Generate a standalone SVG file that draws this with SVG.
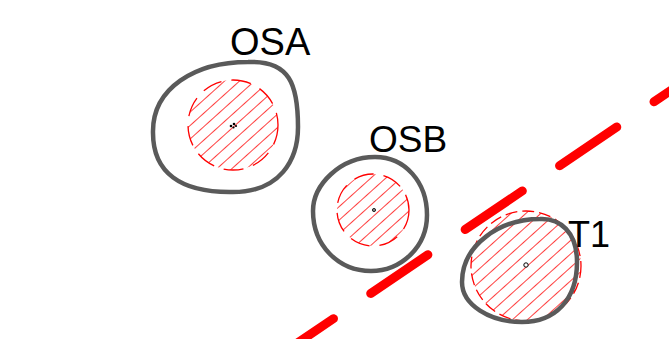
<svg xmlns="http://www.w3.org/2000/svg" width="669" height="339" viewBox="0 0 669 339">
<style>
.blob{fill:none;stroke:#5a5a5a;stroke-width:4.5;stroke-linejoin:round}
.zone{fill:url(#hatch);stroke:#ff0000;stroke-width:1.3;stroke-dasharray:20 10}
.lbl{font-family:"Liberation Sans",Arial,sans-serif;font-size:37px;fill:#000}
.road{fill:none;stroke:#ff0000;stroke-width:9;stroke-linecap:round;stroke-dasharray:69 45}
</style>
<defs>
<pattern id="hatch" patternUnits="userSpaceOnUse" width="10" height="10" patternTransform="rotate(48)">
<line x1="0" y1="0" x2="0" y2="10" stroke="#ff0000" stroke-width="1.5"/>
</pattern>
</defs>
<rect width="669" height="339" fill="#fff"/>
<g id="connectors">
<path class="road" d="M276.3,357.3 L700,70.7"/>
</g>
<g id="OSA">
<circle class="zone" cx="233" cy="125" r="45"/>
<path class="blob" d="M248,62 C290,60 298,85 298,127 C298,160 280,192 233,192 C180,193 153,172 153,133 C152,88 195,62 248,62 Z"/>
<circle cx="231" cy="126" r="1.3" fill="#000"/>
<circle cx="234" cy="124" r="1.3" fill="#000"/>
<circle cx="236" cy="126" r="1.1" fill="#000"/>
<circle cx="233.5" cy="127.5" r="1.1" fill="#000"/>
<text class="lbl" x="230" y="55" style="font-size:38px">OSA</text>
</g>
<g id="OSB">
<circle class="zone" cx="373" cy="210" r="36"/>
<path class="blob" d="M375,157 C405,157 427,182 427,215 C427,248 400,271 371,271 C338,271 313,245 313,211 C313,185 340,157 375,157 Z"/>
<circle cx="374" cy="210" r="1.6" fill="#888" stroke="#000" stroke-width="0.8"/>
<text class="lbl" x="369" y="152">OSB</text>
</g>
<g id="T1">
<circle class="zone" cx="526" cy="266" r="55" style="stroke-dasharray:12 5"/>
<path class="blob" d="M540,219 C560,218 577,232 577,262 C577,300 555,322 522,322 C490,322 462,305 462,282 C462,245 500,219 540,219 Z"/>
<circle cx="526" cy="265" r="2.2" fill="#fff" stroke="#000" stroke-width="1"/>
<text class="lbl" x="568" y="247" style="font-size:36px">T1</text>
</g>
</svg>
